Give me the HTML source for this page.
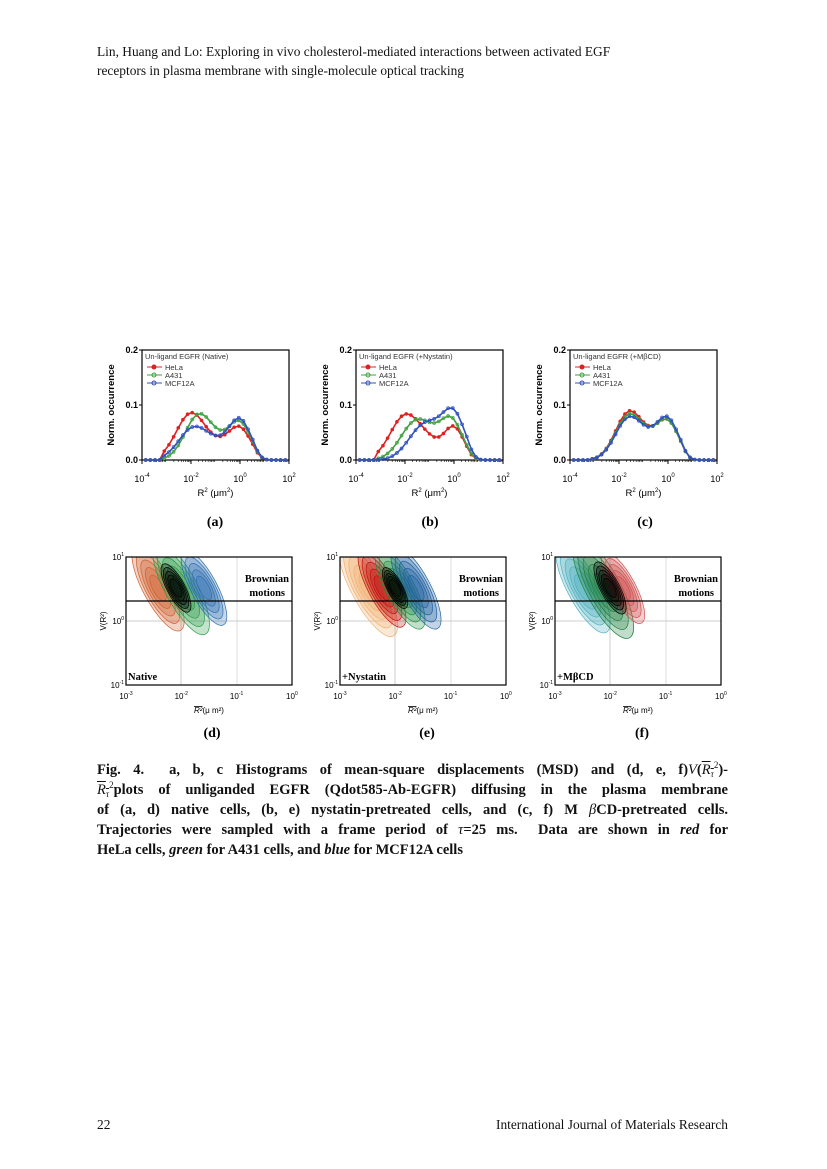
<!DOCTYPE html>
<html><head><meta charset="utf-8"><style>
body{margin:0;background:#fff;}
#pg{position:relative;width:827px;height:1169px;font-family:"Liberation Serif",serif;color:#111;}
.hdr{position:absolute;left:97px;top:42px;font-size:13.4px;line-height:19px;}
.cap{position:absolute;left:97px;top:760px;width:631px;font-size:14.5px;font-weight:bold;line-height:20px;}
.cap div{height:20px;text-align:justify;text-align-last:justify;white-space:nowrap;overflow:visible;}
.cap div.l{text-align-last:left;}
.cap i.m{font-weight:normal;font-style:italic}
.sp{position:relative;top:-6px;font-size:9px;font-weight:normal;line-height:0}
.sb{position:relative;top:3px;font-size:9px;line-height:0}
.ft{position:absolute;top:1117px;font-size:13.4px;}
</style></head><body><div id="pg">
<div class="hdr">Lin, Huang and Lo: Exploring in vivo cholesterol-mediated interactions between activated EGF<br>receptors in plasma membrane with single-molecule optical tracking</div>
<svg id="s" width="827" height="1169" style="position:absolute;left:0;top:0"></svg>
<div class="cap">
<div>Fig. 4.&nbsp; a, b, c Histograms of mean-square displacements (MSD) and (d, e, f)<i class="m">V</i>(<i class="m" style="text-decoration:overline">R<span class="sb">τ</span></i><span class="sp">2</span>)-</div>
<div><i class="m" style="text-decoration:overline">R<span class="sb">τ</span></i><span class="sp">2</span>plots of unliganded EGFR (Qdot585-Ab-EGFR) diffusing in the plasma membrane</div>
<div>of (a, d) native cells, (b, e) nystatin-pretreated cells, and (c, f) M <i class="m">β</i>CD-pretreated cells.</div>
<div>Trajectories were sampled with a frame period of <i class="m">τ</i>=25 ms.&nbsp; Data are shown in <i>red</i> for</div>
<div class="l">HeLa cells, <i>green</i> for A431 cells, and <i>blue</i> for MCF12A cells</div>
</div>
<div class="ft" style="left:97px">22</div>
<div class="ft" style="right:99px">International Journal of Materials Research</div>
</div>
<script>
var s=document.getElementById('s'),h='';
function g(x,m,sd,a){return a*Math.exp(-(x-m)*(x-m)/(2*sd*sd));}
var H=[
 {t:'Un-ligand EGFR (Native)',x0:142,c:[[[-2,.6,.085],[0,.45,.055],[-0.8,.5,.02]],[[-1.7,.55,.08],[0,.45,.065],[-0.8,.5,.02]],[[-1.9,.6,.058],[0,.45,.072],[-0.9,.5,.02]]]},
 {t:'Un-ligand EGFR (+Nystatin)',x0:356,c:[[[-2,.6,.08],[0,.4,.058],[-1,.5,.025]],[[-1.6,.6,.065],[-0.1,.45,.07],[-0.9,.5,.02]],[[-1.3,.6,.055],[0,.45,.08],[-0.7,.5,.02]]]},
 {t:'Un-ligand EGFR (+MβCD)',x0:570,c:[[[-1.6,.55,.085],[0,.45,.065],[-0.7,.5,.02]],[[-1.6,.55,.08],[0,.45,.065],[-0.7,.5,.02]],[[-1.6,.55,.075],[0,.45,.07],[-0.7,.5,.02]]]}];
var col=['#e02020','#40a040','#3050c0'],nm=['HeLa','A431','MCF12A'];
H.forEach(function(p,i){var x0=p.x0,w=147,yb=460,yt=350;
 h+='<rect x="'+x0+'" y="'+yt+'" width="'+w+'" height="'+(yb-yt)+'" fill="none" stroke="#000" stroke-width="1.2"/>';
 [[0,'0.0'],[.1,'0.1'],[.2,'0.2']].forEach(function(q){var y=yb-q[0]*550;h+='<line x1="'+(x0-3)+'" x2="'+x0+'" y1="'+y+'" y2="'+y+'" stroke="#000"/><text x="'+(x0-4)+'" y="'+(y+3)+'" font-family="Liberation Sans" font-size="9" font-weight="bold" text-anchor="end">'+q[1]+'</text>';});
 [-4,-2,0,2].forEach(function(e){var x=x0+(e+4)/6*w;h+='<line x1="'+x+'" x2="'+x+'" y1="'+yb+'" y2="'+(yb+4)+'" stroke="#000"/><text x="'+x+'" y="'+(yb+22)+'" font-family="Liberation Sans" font-size="9" text-anchor="middle">10<tspan dy="-5" font-size="6">'+e+'</tspan></text>';});
 for(var e=-4;e<2;e++)for(var k=2;k<10;k++){var x=x0+(e+4+Math.log10(k))/6*w;h+='<line x1="'+x+'" x2="'+x+'" y1="'+yb+'" y2="'+(yb+2)+'" stroke="#000" stroke-width=".6"/>';}
 h+='<text x="'+(x0+w/2)+'" y="'+(yb+36)+'" font-family="Liberation Sans" font-size="9.5" text-anchor="middle">R<tspan dy="-4" font-size="6">2</tspan><tspan dy="4"> (μm</tspan><tspan dy="-4" font-size="6">2</tspan><tspan dy="4">)</tspan></text>';
 h+='<text transform="translate('+(x0-28)+','+(yb-55)+') rotate(-90)" font-family="Liberation Sans" font-size="9.5" font-weight="bold" text-anchor="middle">Norm. occurrence</text>';
 h+='<text x="'+(x0+3)+'" y="'+(yt+9)+'" font-family="Liberation Sans" font-size="7.5" fill="#333">'+p.t+'</text>';
 for(var j=0;j<3;j++){var ly=yt+17+j*8;h+='<line x1="'+(x0+5)+'" x2="'+(x0+20)+'" y1="'+ly+'" y2="'+ly+'" stroke="'+col[j]+'"/><circle cx="'+(x0+12)+'" cy="'+ly+'" r="2" fill="'+(j?'none':col[j])+'" stroke="'+col[j]+'"/><text x="'+(x0+23)+'" y="'+(ly+3)+'" font-family="Liberation Sans" font-size="7.5" fill="#333">'+nm[j]+'</text>';}
 for(var j=0;j<3;j++){var pts=[];for(var n=0;n<=30;n++){var lx=-3.85+n*0.19,v=0;if(lx>-3.2&&lx<1.1)p.c[j].forEach(function(q){v+=g(lx,q[0],q[1],q[2]);});if(lx>0.6)v*=Math.max(0,1-(lx-0.6)/0.6);if(lx<-3.2)v=0;pts.push([x0+(lx+4)/6*w,yb-v*550]);}
  h+='<polyline fill="none" stroke="'+col[j]+'" stroke-width="1.6" points="'+pts.map(function(q){return q[0].toFixed(1)+','+q[1].toFixed(1)}).join(' ')+'"/>';
  pts.forEach(function(q){h+=j==0?'<circle cx="'+q[0]+'" cy="'+q[1]+'" r="1.8" fill="'+col[0]+'"/>':'<circle cx="'+q[0]+'" cy="'+q[1]+'" r="1.5" fill="none" stroke="'+col[j]+'" stroke-width=".7"/>';});}
});
['(a)','(b)','(c)'].forEach(function(t,i){h+='<text x="'+(215+i*215)+'" y="526" font-family="Liberation Serif" font-size="14" font-weight="bold" text-anchor="middle">'+t+'</text>';});
['(d)','(e)','(f)'].forEach(function(t,i){h+='<text x="'+(212+i*215)+'" y="737" font-family="Liberation Serif" font-size="14" font-weight="bold" text-anchor="middle">'+t+'</text>';});
var B=[{x0:126,lab:'Native',b:[[32,'#d06030',1],[55,'#2a9a48',1.1],[78,'#3070b0',.85],[50,'#000',.5]]},
 {x0:340,lab:'+Nystatin',b:[[28,'#f0b070',1.15],[42,'#c01010',.9],[60,'#209040',.95],[76,'#2060a0',.95],[55,'#000',.4]]},
 {x0:555,lab:'+MβCD',b:[[28,'#50b0c0',1.05],[48,'#208040',1.2],[68,'#d05050',.8],[55,'#000',.55]]}];
B.forEach(function(p,pi){var x0=p.x0,w=166,yt=557,yb=685;
 h+='<clipPath id="c'+pi+'"><rect x="'+x0+'" y="'+yt+'" width="'+w+'" height="'+(yb-yt)+'"/></clipPath>';
 h+='<line x1="'+(x0+55)+'" x2="'+(x0+55)+'" y1="'+yt+'" y2="'+yb+'" stroke="#ccc"/><line x1="'+(x0+111)+'" x2="'+(x0+111)+'" y1="'+yt+'" y2="'+yb+'" stroke="#ddd"/><line x1="'+x0+'" x2="'+(x0+w)+'" y1="621" y2="621" stroke="#ccc"/>';
 h+='<g clip-path="url(#c'+pi+')">';
 p.b.forEach(function(b){var cx=x0+b[0],cy=588;for(var k=5;k>=1;k--){var f=k/5;h+='<ellipse cx="'+cx+'" cy="'+cy+'" rx="'+(12*b[2]*f+3)+'" ry="'+(42*b[2]*f+6)+'" transform="rotate(-28 '+cx+' '+cy+')" fill="'+b[1]+'" fill-opacity="0.28" stroke="'+b[1]+'" stroke-width=".7"/>';}});
 h+='</g>';
 h+='<rect x="'+x0+'" y="'+yt+'" width="'+w+'" height="'+(yb-yt)+'" fill="none" stroke="#000" stroke-width="1.2"/>';
 h+='<line x1="'+x0+'" x2="'+(x0+w)+'" y1="601" y2="601" stroke="#000" stroke-width="1.2"/>';
 h+='<text x="'+(x0+163)+'" y="582" font-family="Liberation Serif" font-size="10.5" font-weight="bold" text-anchor="end">Brownian</text><text x="'+(x0+159)+'" y="596" font-family="Liberation Serif" font-size="10.5" font-weight="bold" text-anchor="end">motions</text>';
 h+='<text x="'+(x0+2)+'" y="680" font-family="Liberation Serif" font-size="10.5" font-weight="bold">'+p.lab+'</text>';
 [[557,'1'],[621,'0'],[685,'-1']].forEach(function(q){h+='<text x="'+(x0-2)+'" y="'+(q[0]+3)+'" font-family="Liberation Sans" font-size="8" text-anchor="end">10<tspan dy="-4" font-size="5">'+q[1]+'</tspan></text>';});
 [-3,-2,-1,0].forEach(function(e,i){h+='<text x="'+(x0+i*55.3)+'" y="'+(yb+14)+'" font-family="Liberation Sans" font-size="8" text-anchor="middle">10<tspan dy="-4" font-size="5">'+e+'</tspan></text>';});
 h+='<text x="'+(x0+w/2)+'" y="'+(yb+28)+'" font-family="Liberation Sans" font-size="8" text-anchor="middle"><tspan font-style="italic" text-decoration="overline">R²</tspan>(μ m²)</text>';
 h+='<text transform="translate('+(x0-20)+',621) rotate(-90)" font-family="Liberation Sans" font-size="8" text-anchor="middle">V(R²)</text>';
});
s.innerHTML=h;
</script></body></html>
